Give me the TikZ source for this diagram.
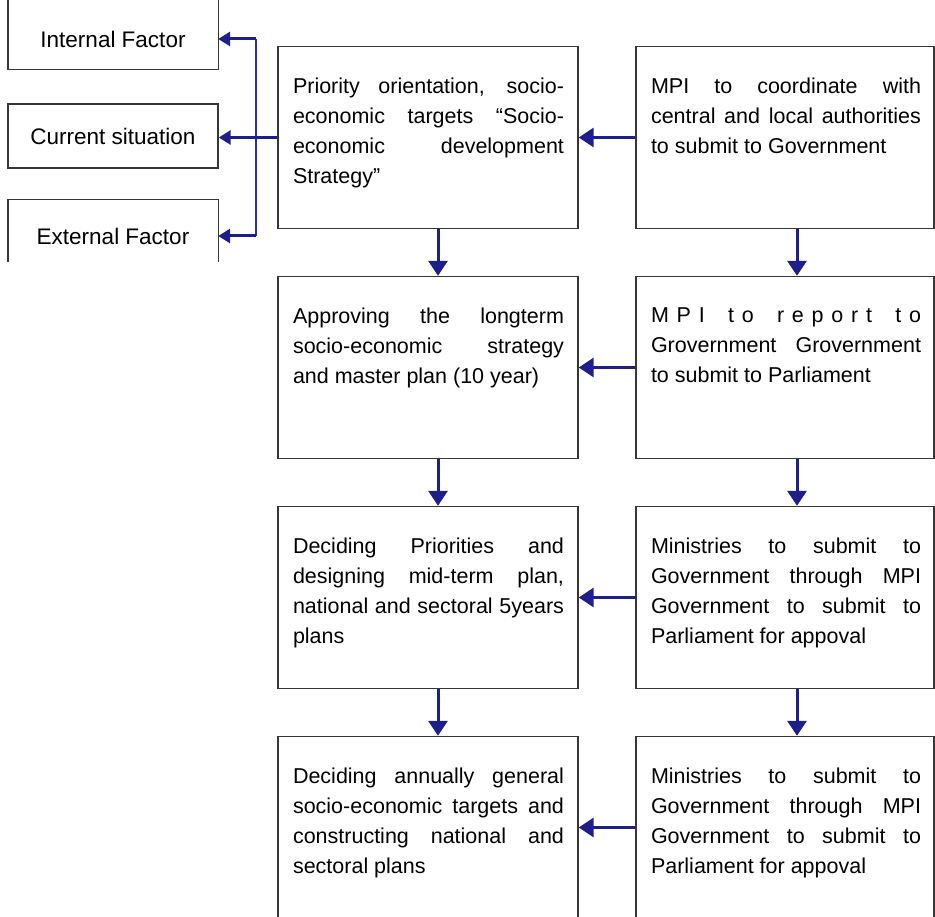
\documentclass[tikz,border=0pt]{standalone}
\usepackage{fontspec}
\setmainfont{Liberation Sans}
\usetikzlibrary{arrows.meta}

\definecolor{flow}{RGB}{30,30,140}
\definecolor{busc}{RGB}{45,45,175}
\definecolor{edge}{RGB}{55,55,55}

% one justified line filling the whole text width
\newcommand\jline[1]{\makebox[\linewidth][s]{#1}}
% panel text: left pad, text block of fixed height, right pad
\newcommand\paneltext[3]{\hspace*{15pt}\parbox[c][182pt][t]{#1}{\vspace*{31pt}\fontsize{21.5pt}{30pt}\selectfont #3}\hspace*{#2}}

\tikzset{
  panel/.style={draw=edge, line width=1.4pt, inner sep=0pt, minimum height=182pt},
  factor/.style={inner sep=0pt, minimum width=210pt, font=\fontsize{22.5pt}{26pt}\selectfont},
  arr/.style={draw=flow, line width=3pt, -{Triangle[width=19pt,length=15pt]}},
  arrs/.style={draw=flow, line width=3pt, -{Triangle[width=14pt,length=12pt]}},
  bus/.style={draw=busc, line width=1.7pt},
  side/.style={draw=edge, line width=1.4pt},
}

\begin{document}
\begin{tikzpicture}[x=1pt,y=-1pt]
\useasboundingbox (0,0) rectangle (935,917);
\clip (0,0) rectangle (935,917);

% ---- left column: planning steps ----
\node[panel] (l1) at (428,137.5) {\paneltext{271pt}{14pt}{%
  \jline{Priority orientation, socio-}\\
  \jline{economic targets “Socio-}\\
  \jline{economic development}\\
  Strategy”}};
\node[panel] (l2) at (428,367.5) {\paneltext{271pt}{14pt}{%
  \jline{Approving the longterm}\\
  \jline{socio-economic strategy}\\
  and master plan (10 year)}};
\node[panel] (l3) at (428,597.5) {\paneltext{271pt}{14pt}{%
  \jline{Deciding Priorities and}\\
  \jline{designing mid-term plan,}\\
  \jline{national and sectoral 5years}\\
  plans}};
\node[panel] (l4) at (428,827.5) {\paneltext{271pt}{14pt}{%
  \jline{Deciding annually general}\\
  \jline{socio-economic targets and}\\
  \jline{constructing national and}\\
  sectoral plans}};

% ---- right column: responsible actors ----
\node[panel] (r1) at (785,137.5) {\paneltext{270pt}{13pt}{%
  \jline{MPI to coordinate with}\\
  \jline{central and local authorities}\\
  to submit to Government}};
\node[panel] (r2) at (785,367.5) {\paneltext{270pt}{13pt}{%
  \jline{M\hfill P\hfill I\hfill\hfill\hfill t\hfill o\hfill\hfill\hfill r\hfill e\hfill p\hfill o\hfill r\hfill t\hfill\hfill\hfill t\hfill o}\\
  \jline{Grovernment Grovernment}\\
  to submit to Parliament}};
\node[panel] (r3) at (785,597.5) {\paneltext{270pt}{13pt}{%
  \jline{Ministries to submit to}\\
  \jline{Government through MPI}\\
  \jline{Government to submit to}\\
  Parliament for appoval}};
\node[panel] (r4) at (785,827.5) {\paneltext{270pt}{13pt}{%
  \jline{Ministries to submit to}\\
  \jline{Government through MPI}\\
  \jline{Government to submit to}\\
  Parliament for appoval}};

% ---- factor boxes ----
\node[factor, minimum height=60pt] (int) at (113,39.5) {Internal Factor};
\draw[side] ([yshift=60pt]int.north west) -- (int.south west) -- (int.south east) -- ([yshift=60pt]int.north east);
\node[factor, draw=edge, line width=1.4pt, minimum height=64pt] (cur) at (113,136) {Current situation};
\node[factor, minimum height=72pt] (ext) at (113,236) {External Factor};
\draw[side] ([yshift=-62pt]ext.north west) -- (ext.north west) -- (ext.north east) -- ([yshift=-62pt]ext.north east);

% ---- connectors ----
\foreach \i in {1,2,3,4} \draw[arr] (r\i.west) -- (l\i.east);
\foreach \a/\b in {1/2,2/3,3/4} {
  \draw[arr] ([xshift=10pt]l\a.south) -- ([xshift=10pt]l\b.north);
  \draw[arr] ([xshift=12pt]r\a.south) -- ([xshift=12pt]r\b.north);
}

\coordinate (busT) at (256,39);
\coordinate (busB) at (256,236);
\draw[bus] (busT) -- (busB);
\draw[arrs] (busT) -- (busT -| int.east);
\draw[arrs] (busB) -- (busB -| ext.east);
\draw[arrs] (l1.west) -- (l1.west -| cur.east);
\end{tikzpicture}
\end{document}
